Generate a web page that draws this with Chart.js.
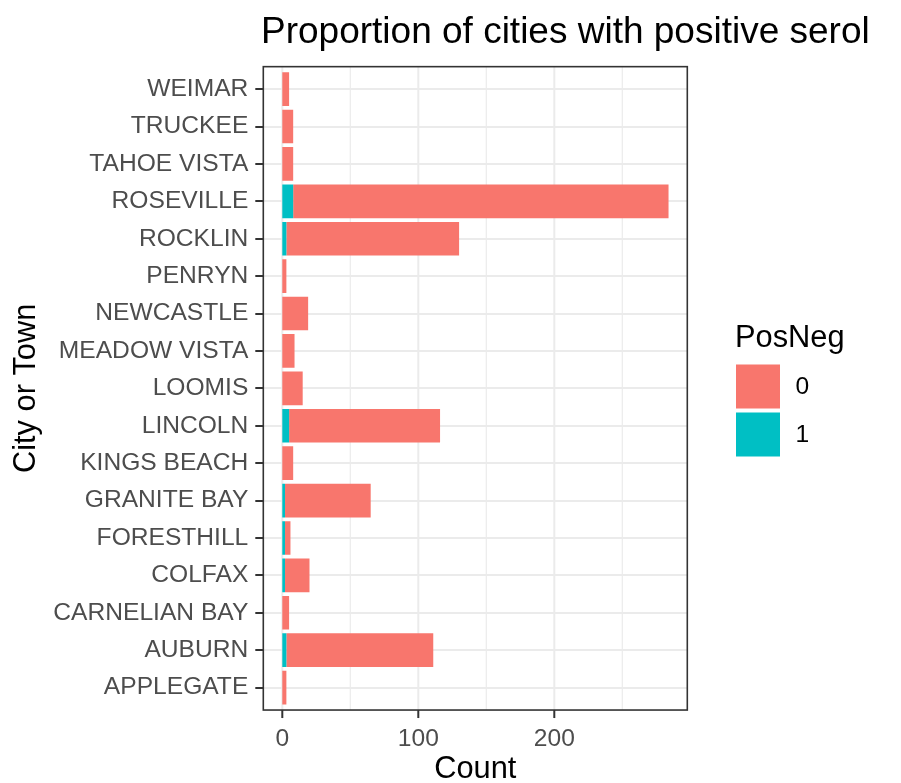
<!DOCTYPE html>
<html><head><meta charset="utf-8">
<script src="https://cdn.jsdelivr.net/npm/chart.js@4"></script>
<style>html,body{margin:0;padding:0;background:#fff}canvas{display:block}</style>
</head><body>
<canvas id="c" width="901" height="783"></canvas>
<script>
// ---- data ----
const categories = ['WEIMAR','TRUCKEE','TAHOE VISTA','ROSEVILLE','ROCKLIN','PENRYN','NEWCASTLE','MEADOW VISTA','LOOMIS','LINCOLN','KINGS BEACH','GRANITE BAY','FORESTHILL','COLFAX','CARNELIAN BAY','AUBURN','APPLEGATE'];
const countPos = [0,0,0,8,3,0,0,0,0,5,0,2,2,2,0,3,0];          // PosNeg = 1
const countNeg = [5,8,8,276,127,3,19,9,15,111,8,63,4,18,5,108,3]; // PosNeg = 0
const xMajorTicks = [0,100,200];
const xMinorTicks = [50,150,250];
const titleText = 'Proportion of cities with positive serol';
const legendTitle = 'PosNeg';

const FONT = "'Liberation Sans', Arial, Helvetica, sans-serif";
const COL0 = '#F8766D', COL1 = '#00BFC4';

const panelPlugin = {
  id: 'panel',
  beforeDraw(chart) {
    const ctx = chart.ctx; ctx.save(); ctx.fillStyle = '#fff';
    ctx.fillRect(0, 0, chart.width, chart.height); ctx.restore();
  },
  beforeDatasetsDraw(chart) {
    const {ctx, chartArea: a, scales: {x}} = chart;
    const pitch = (a.bottom - a.top) / categories.length;
    const top = a.top - 0.1 * pitch, bottom = a.bottom + 0.1 * pitch;
    ctx.save();
    ctx.strokeStyle = '#EBEBEB';
    const vline = (v, w) => { const px = x.getPixelForValue(v); ctx.lineWidth = w; ctx.beginPath(); ctx.moveTo(px, top); ctx.lineTo(px, bottom); ctx.stroke(); };
    xMinorTicks.forEach(v => vline(v, 1.2));
    xMajorTicks.forEach(v => vline(v, 2));
    ctx.restore();
  },
  afterDatasetsDraw(chart) {
    const {ctx, chartArea: a, scales: {x}} = chart;
    const pitch = (a.bottom - a.top) / categories.length;
    const top = a.top - 0.1 * pitch, bottom = a.bottom + 0.1 * pitch;
    ctx.save();
    // panel border
    ctx.strokeStyle = '#333'; ctx.lineWidth = 1.6;
    ctx.strokeRect(a.left, top, a.right - a.left, bottom - top);
    // x tick marks
    ctx.lineWidth = 2;
    xMajorTicks.forEach(v => { const px = x.getPixelForValue(v); ctx.beginPath(); ctx.moveTo(px, bottom); ctx.lineTo(px, bottom + 8); ctx.stroke(); });
    // title (clipped like the reference)
    ctx.save();
    ctx.beginPath(); ctx.rect(0, 0, 872, 80); ctx.clip();
    ctx.fillStyle = '#000'; ctx.font = '37px ' + FONT; ctx.textBaseline = 'alphabetic'; ctx.textAlign = 'left';
    ctx.fillText(titleText, 261, 43);
    ctx.restore();
    // legend
    ctx.fillStyle = '#000'; ctx.font = '30.8px ' + FONT; ctx.textBaseline = 'alphabetic'; ctx.textAlign = 'left';
    ctx.fillText(legendTitle, 735, 347);
    const ds = chart.data.datasets;
    const order = [1, 0];
    order.forEach((di, k) => {
      const y0 = 364.5 + k * 48;
      ctx.fillStyle = ds[di].backgroundColor;
      ctx.fillRect(736, y0, 44, 44);
      ctx.fillStyle = '#000'; ctx.font = '24.6px ' + FONT; ctx.textBaseline = 'middle';
      ctx.fillText(ds[di].label, 795.5, y0 + 22.5);
    });
    ctx.restore();
  }
};

new Chart(document.getElementById('c'), {
  type: 'bar',
  data: {
    labels: categories,
    datasets: [
      {label: '1', data: countPos, backgroundColor: COL1, borderWidth: 0, barPercentage: 0.9, categoryPercentage: 1, stack: 's'},
      {label: '0', data: countNeg, backgroundColor: COL0, borderWidth: 0, barPercentage: 0.9, categoryPercentage: 1, stack: 's'}
    ]
  },
  options: {
    indexAxis: 'y', responsive: false, animation: false,
    layout: {padding: {top: 70.4, right: 901 - 687.3, bottom: 0, left: 0}},
    plugins: {legend: {display: false}, tooltip: {enabled: false}, title: {display: false}},
    scales: {
      x: {
        type: 'linear', stacked: true, min: -13.97, max: 297.8, position: 'bottom',
        grid: {display: false, drawTicks: false, tickLength: 0}, border: {display: false},
        afterBuildTicks(s) { s.ticks = xMajorTicks.map(v => ({value: v})); },
        ticks: {color: '#4D4D4D', font: {family: FONT, size: 24.6}, padding: 18, maxRotation: 0, autoSkip: false},
        afterFit(s) { s.height = 783 - 706.3; },
        title: {display: true, text: 'Count', color: '#000', font: {family: FONT, size: 30.8, lineHeight: 0.88}, padding: {top: 0, bottom: 0}}
      },
      y: {
        type: 'category', stacked: true, offset: true,
        grid: {offset: false, color: '#EBEBEB', lineWidth: 2, tickColor: '#333', tickWidth: 2, tickLength: 8, drawOnChartArea: true, drawTicks: true},
        border: {display: false},
        ticks: {color: '#4D4D4D', font: {family: FONT, size: 24.6}, padding: 7, autoSkip: false},
        afterFit(s) { s.width = 263.3; },
        title: {display: true, text: 'City or Town', color: '#000', font: {family: FONT, size: 30.8, lineHeight: 1.1}, padding: {top: 10, bottom: 0}}
      }
    }
  },
  plugins: [panelPlugin]
});
</script>
</body></html>
